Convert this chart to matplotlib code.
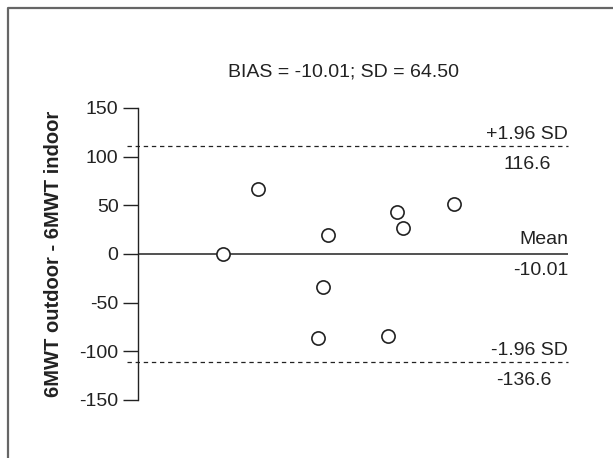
import matplotlib
matplotlib.use("Agg")
import matplotlib.pyplot as plt
from matplotlib.lines import Line2D
from matplotlib import font_manager

names = {f.name for f in font_manager.fontManager.ttflist}
fam = "Liberation Sans Narrow" if "Liberation Sans Narrow" in names else "Liberation Sans"
plt.rcParams["font.family"] = [fam, "DejaVu Sans"]

# data
x_mean = [85, 120, 190, 185, 180, 250, 259, 265, 316]
y_diff = [0, 66.5, 19.8, -34.2, -86, -84.6, 42.9, 26.4, 51.4]
mean_line = 0
upper_loa = 111
lower_loa = -111
yticks = [-150, -100, -50, 0, 50, 100, 150]
title = "BIAS = -10.01; SD = 64.50"
ylabel = "6MWT outdoor - 6MWT indoor"

W, H = 613, 458
fig = plt.figure(figsize=(W / 100, H / 100), dpi=100)
ax = fig.add_axes([138 / W, 1 - 400 / H, (568 - 138) / W, (400 - 108) / H])

ink = "#222222"
ax.scatter(x_mean, y_diff, s=9.5**2, facecolor="white", edgecolor=ink, linewidth=1.2, zorder=3)
ax.plot([0, 1], [mean_line, mean_line], transform=ax.get_yaxis_transform(), color=ink, lw=1.1, zorder=2)
for v in (upper_loa, lower_loa):
    ax.plot([-0.026, 1], [v, v], transform=ax.get_yaxis_transform(), color=ink, lw=0.9,
            ls=(0, (3.5, 3.0)), clip_on=False, zorder=2)

ax.set_xlim(0, 430)
ax.set_ylim(-150, 150)
ax.set_yticks(yticks)
ax.set_yticklabels([str(t) for t in yticks])
ax.tick_params(axis="y", direction="out", length=11, width=1.0, color=ink, labelsize=14, pad=3, labelcolor=ink)
ax.set_xticks([])
for s in ("top", "right", "bottom"):
    ax.spines[s].set_visible(False)
ax.spines["left"].set_color(ink)
ax.spines["left"].set_linewidth(1.0)

ax.set_ylabel(ylabel, fontsize=14.5, fontweight="bold", color=ink)
ax.yaxis.set_label_coords(-(138 - 63) / 430, 0.5)

fig.text(344 / W, 1 - 72 / H, title, ha="center", va="center", fontsize=14, color=ink)

tr = ax.get_yaxis_transform()
ax.annotate("+1.96 SD", (1, upper_loa), xycoords=tr, xytext=(0, 2), textcoords="offset points",
            ha="right", va="bottom", fontsize=14, color=ink)
ax.annotate("116.6", ((527 - 138) / 430, upper_loa), xycoords=tr, xytext=(0, -7), textcoords="offset points",
            ha="center", va="top", fontsize=14, color=ink)
ax.annotate("Mean", (1, mean_line), xycoords=tr, xytext=(0, 4), textcoords="offset points",
            ha="right", va="bottom", fontsize=14, color=ink)
ax.annotate("-10.01", (1, mean_line), xycoords=tr, xytext=(0, -6), textcoords="offset points",
            ha="right", va="top", fontsize=14, color=ink)
ax.annotate("-1.96 SD", (1, lower_loa), xycoords=tr, xytext=(0, 2), textcoords="offset points",
            ha="right", va="bottom", fontsize=14, color=ink)
ax.annotate("-136.6", ((524 - 138) / 430, lower_loa), xycoords=tr, xytext=(0, -7), textcoords="offset points",
            ha="center", va="top", fontsize=14, color=ink)

# outer frame (only top and left visible)
fig.add_artist(Line2D([8 / W, 8 / W, 1.01], [-0.01, 1 - 8 / H, 1 - 8 / H], transform=fig.transFigure,
                      color="#666666", lw=1.6))

fig.savefig("out.png", dpi=100)
